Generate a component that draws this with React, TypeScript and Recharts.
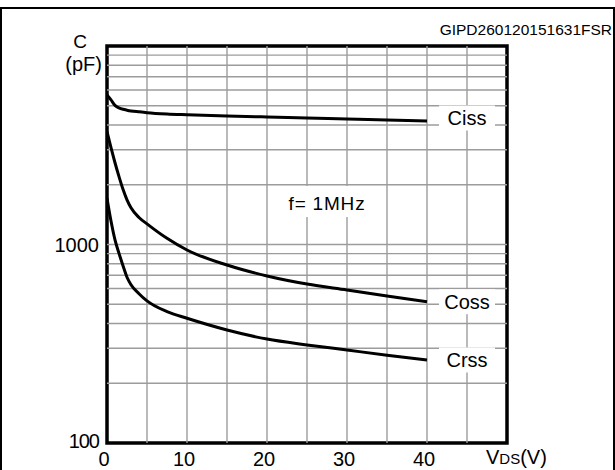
import React from 'react';
import {
  LineChart,
  Line,
  XAxis,
  YAxis,
  ReferenceLine,
  ReferenceArea,
  ReferenceDot,
} from 'recharts';

// drain-source voltage (V)
const voltages = [0, 0.5, 1, 1.5, 2, 2.5, 3, 4, 5, 7.5, 10, 15, 20, 25, 30, 35, 40];
// capacitances (pF)
const ciss = [5665, 5350, 5020, 4880, 4800, 4750, 4710, 4660, 4615, 4545, 4505, 4440, 4390, 4340, 4290, 4240, 4190];
const coss = [3700, 3076, 2582, 2198, 1897, 1679, 1531, 1368, 1270, 1074, 938, 788, 694, 632, 590, 550, 515];
const crss = [1709, 1312, 1054, 902, 782, 684, 627, 565, 520, 459, 425, 371, 334, 312, 294, 277, 262];

const xTicks = [0, 10, 20, 30, 40];
const yTicks = [100, 1000];
const xGrid = [5, 10, 15, 20, 25, 30, 35, 40, 45];
const yGrid = [200, 300, 400, 500, 600, 700, 800, 900, 1000, 2000, 3000, 4000, 5000, 6000, 7000, 8000, 9000];

const seriesNames = ['Ciss', 'Coss', 'Crss'];
const freqNote = 'f= 1MHz';
const figureCode = 'GIPD260120151631FSR';

const rows = voltages.map((v, i) => ({ v, ciss: ciss[i], coss: coss[i], crss: crss[i] }));

const FONT = '"Liberation Sans", Arial, Helvetica, sans-serif';
const GRID = '#9c9c9c';

const XTick = (props: any) => {
  const { x, y, payload } = props;
  return (
    <text x={x - 3} y={y + 21} textAnchor="middle" fontFamily={FONT} fontSize={20} fill="#000">
      {payload.value}
    </text>
  );
};

const YTick = (props: any) => {
  const { x, y, payload } = props;
  const is100 = payload.value === 100;
  return (
    <text
      x={x - 6}
      y={y + (is100 ? 5 : 7)}
      textAnchor="end"
      fontFamily={FONT}
      fontSize={20}
      letterSpacing={is100 ? -1 : 0}
      fill="#000"
    >
      {payload.value}
    </text>
  );
};

// white boxed curve name placed right of the curve end
const curveTag = (name: string, dy: number) => (props: any) => {
  const { cx, cy } = props;
  const c = cy + dy;
  return (
    <g>
      <rect x={cx - 28} y={c - 12.5} width={56} height={25} fill="#fff" />
      <text x={cx} y={c + 7} textAnchor="middle" fontFamily={FONT} fontSize={20} fill="#000">
        {name}
      </text>
    </g>
  );
};

const noteTag = (props: any) => {
  const { cx, cy } = props;
  return (
    <g>
      <rect x={cx - 52} y={cy - 16} width={100} height={31} fill="#fff" />
      <text x={cx} y={cy + 8} textAnchor="middle" fontFamily={FONT} fontSize={19} letterSpacing={0.8} fill="#000">
        {freqNote}
      </text>
    </g>
  );
};

export default function App() {
  const last = voltages.length - 1;
  return (
    <div style={{ position: 'absolute', left: 0, top: 0, width: 615, height: 470, background: '#fff', overflow: 'hidden' }}>
      <LineChart width={615} height={470} data={rows} margin={{ top: 46, right: 108, bottom: 0, left: 0 }}>
        <XAxis
          dataKey="v"
          type="number"
          domain={[0, 50]}
          ticks={xTicks}
          interval={0}
          height={27}
          axisLine={false}
          tickLine={false}
          tickSize={0}
          tick={XTick}
          allowDataOverflow
        />
        <YAxis
          type="number"
          scale="log"
          domain={[100, 10000]}
          ticks={yTicks}
          interval={0}
          width={107}
          axisLine={false}
          tickLine={false}
          tickSize={0}
          tick={YTick}
          allowDataOverflow
        />
        {xGrid.map((v) => (
          <ReferenceLine key={'x' + v} x={v} stroke={GRID} strokeWidth={1.4} />
        ))}
        {yGrid.map((v) => (
          <ReferenceLine key={'y' + v} y={v} stroke={GRID} strokeWidth={1.4} />
        ))}
        <ReferenceArea x1={0} x2={50} y1={100} y2={10000} fill="none" fillOpacity={0} stroke="#000" strokeWidth={3.5} />
        <Line dataKey="ciss" type="monotone" stroke="#000" strokeWidth={3} dot={false} isAnimationActive={false} />
        <Line dataKey="coss" type="monotone" stroke="#000" strokeWidth={3} dot={false} isAnimationActive={false} />
        <Line dataKey="crss" type="monotone" stroke="#000" strokeWidth={3} dot={false} isAnimationActive={false} />
        <ReferenceDot x={45} y={ciss[last]} r={0} shape={curveTag(seriesNames[0], -3)} />
        <ReferenceDot x={45} y={coss[last]} r={0} shape={curveTag(seriesNames[1], 0)} />
        <ReferenceDot x={45} y={crss[last]} r={0} shape={curveTag(seriesNames[2], 0)} />
        <ReferenceDot x={27.5} y={1637} r={0} shape={noteTag} />
      </LineChart>
      <svg
        width={615}
        height={470}
        style={{ position: 'absolute', left: 0, top: 0, pointerEvents: 'none' }}
        fontFamily={FONT}
      >
        <rect x={1} y={8} width={613} height={480} fill="none" stroke="#000" strokeWidth={2} />
        <text x={612} y={35} textAnchor="end" fontSize={15.5}>{figureCode}</text>
        <text x={80} y={48} textAnchor="middle" fontSize={19}>C</text>
        <text x={102} y={71} textAnchor="end" fontSize={20}>(pF)</text>
        <text x={486} y={464} fontSize={20}>
          V<tspan fontSize={15}>DS</tspan>(V)
        </text>
      </svg>
    </div>
  );
}
